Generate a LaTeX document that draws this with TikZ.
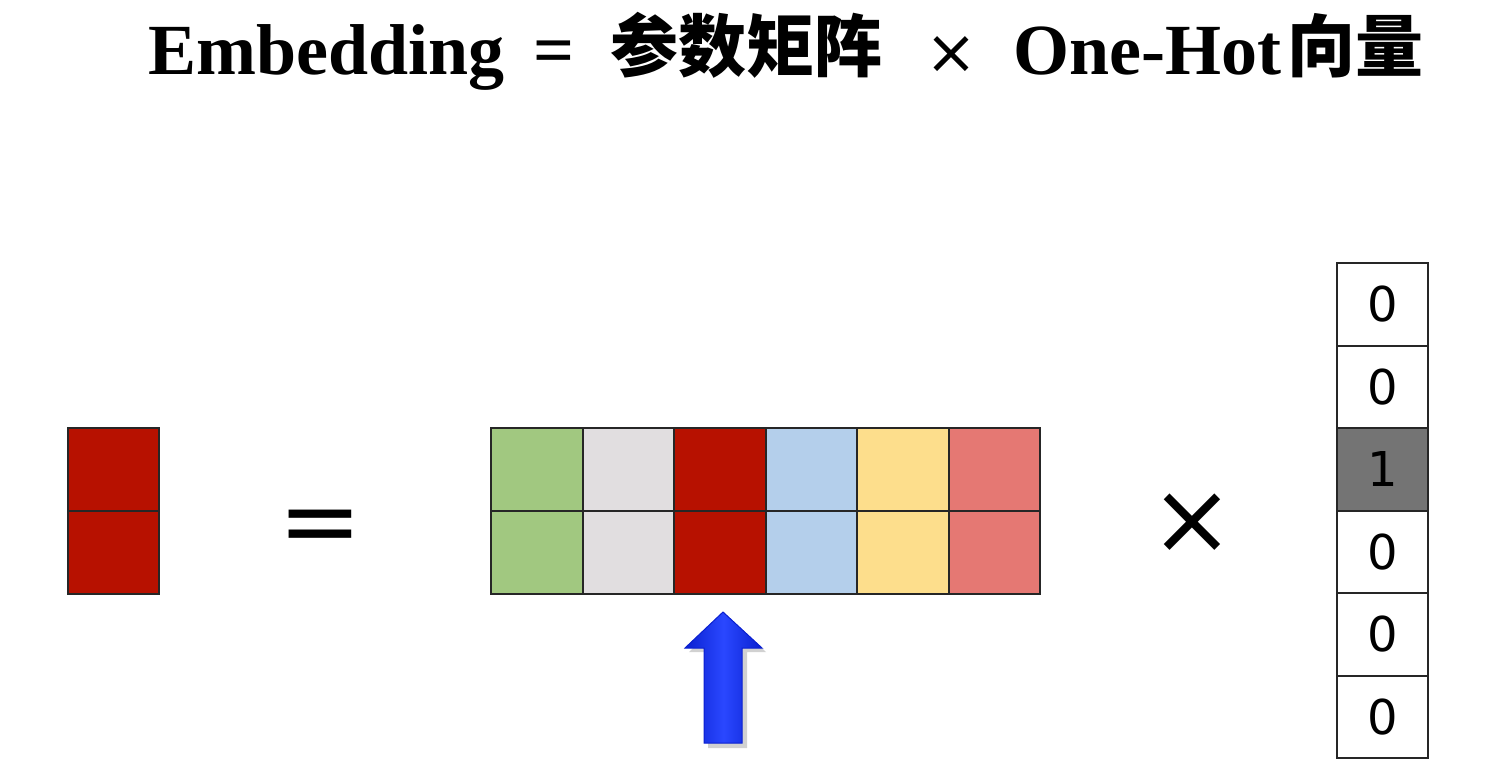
\documentclass[tikz,border=0pt]{standalone}
\usepackage{fontspec}
\setmainfont{Liberation Serif}
\newfontfamily\cjk{Noto Sans CJK SC}
\newfontfamily\dvs{DejaVu Sans}
\usetikzlibrary{shadings}
\definecolor{cred}{HTML}{B71100}
\definecolor{cgreen}{HTML}{A1C880}
\definecolor{cgray}{HTML}{E1DEE0}
\definecolor{cblue}{HTML}{B4CFEB}
\definecolor{cyellow}{HTML}{FDDE8C}
\definecolor{csalmon}{HTML}{E57873}
\definecolor{cdark}{HTML}{747474}
\definecolor{arrowA}{HTML}{0A20D0}
\definecolor{arrowB}{HTML}{2A48FF}
\tikzset{
  cell/.style={draw=black!85, line width=1pt, minimum width=45.75pt, minimum height=41.5pt, inner sep=0pt},
  ohcell/.style={cell, minimum height=41.25pt, fill=white, font=\dvs\fontsize{24}{24}\selectfont},
  title/.style={anchor=base west, inner sep=0pt, font=\bfseries\fontsize{36}{36}\selectfont},
  titlecjk/.style={anchor=base west, inner sep=0pt, font=\cjk\bfseries\fontsize{34}{34}\selectfont},
  bigsym/.style={inner sep=0pt, font=\dvs\fontsize{50}{50}\selectfont}
}
\begin{document}
\begin{tikzpicture}[x=0.5pt,y=-0.5pt]
\useasboundingbox[fill=white] (0,0) rectangle (1486,770);
% title
\node[title] (t1) at (148,75) {Embedding};
\node[title] (t2) at (533,75) {=};
\node[titlecjk] (t3) at (610,72) {参数矩阵};
\node[title, font=\dvs\fontsize{31}{31}\selectfont, anchor=center] (t4) at (951,55) {×};
\node[title] (t5) at (1013,75) {One-Hot};
\node[titlecjk] (t6) at (1287,72) {向量};
% left vector
\node[cell, fill=cred] (v1) at (113.5,469.5) {};
\node[cell, fill=cred] (v2) at (113.5,552.5) {};
% equals
\node[bigsym] (eq) at (320,533) {=};
% matrix
\foreach \c [count=\i from 0] in {cgreen,cgray,cred,cblue,cyellow,csalmon}{
  \node[cell, fill=\c] (m1\i) at ({491+91.5*(\i+0.5)},469.5) {};
  \node[cell, fill=\c] (m2\i) at ({491+91.5*(\i+0.5)},552.5) {};
}
% times
\node[bigsym] (x) at (1192,524) {×};
% one-hot
\foreach \v [count=\k from 0] in {0,0,1,0,0,0}{
  \node[ohcell] (o\k) at (1382.5,{304.25+82.5*\k}) {\v};
}
\node[ohcell, fill=cdark] at (o2) {1};
% arrow shadow
\fill[black!18] (708,748) -- (708,652) -- (689,652) -- (727,616) -- (766,652) -- (747,652) -- (747,748) -- cycle;
% arrow
\shade[left color=arrowA, right color=arrowA, middle color=arrowB, draw=arrowA, line width=0.5pt]
  (704,743) -- (704,648) -- (685,648) -- (723,612) -- (762,648) -- (742,648) -- (742,743) -- cycle;
\end{tikzpicture}
\end{document}
